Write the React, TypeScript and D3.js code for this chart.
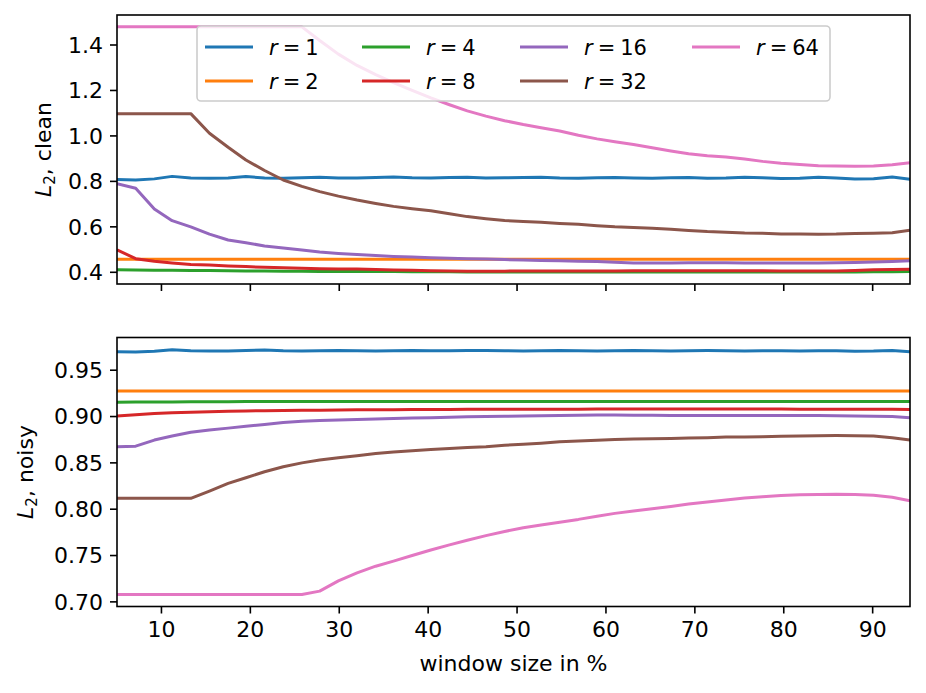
import React from "react";
import * as d3 from "d3";

const windowSize = [5.0, 7.1, 9.2, 11.2, 13.3, 15.4, 17.5, 19.5, 21.6, 23.7, 25.8, 27.8, 29.9, 32.0, 34.1, 36.1, 38.2, 40.3, 42.4, 44.4, 46.5, 48.6, 50.7, 52.7, 54.8, 56.9, 59.0, 61.0, 63.1, 65.2, 67.3, 69.3, 71.4, 73.5, 75.6, 77.6, 79.7, 81.8, 83.9, 85.9, 88.0, 90.1, 92.2, 94.2];

const seriesLabels = ["1", "2", "4", "8", "16", "32", "64"];
const seriesColors = ["#1f77b4", "#ff7f0e", "#2ca02c", "#d62728", "#9467bd", "#8c564b", "#e377c2"];

// clean
const clean_r1 = [0.808, 0.806, 0.811, 0.822, 0.815, 0.814, 0.815, 0.821, 0.815, 0.814, 0.816, 0.818, 0.815, 0.815, 0.817, 0.819, 0.816, 0.815, 0.817, 0.818, 0.815, 0.816, 0.817, 0.818, 0.815, 0.814, 0.816, 0.817, 0.815, 0.814, 0.816, 0.817, 0.814, 0.815, 0.818, 0.816, 0.813, 0.814, 0.818, 0.815, 0.811, 0.812, 0.819, 0.809];
const clean_r2 = [0.457, 0.457, 0.457, 0.457, 0.457, 0.457, 0.457, 0.457, 0.457, 0.457, 0.457, 0.457, 0.457, 0.457, 0.457, 0.457, 0.457, 0.457, 0.457, 0.457, 0.457, 0.457, 0.457, 0.457, 0.457, 0.457, 0.457, 0.457, 0.457, 0.457, 0.457, 0.457, 0.457, 0.457, 0.457, 0.457, 0.457, 0.457, 0.457, 0.457, 0.457, 0.457, 0.457, 0.457];
const clean_r4 = [0.411, 0.410, 0.409, 0.409, 0.408, 0.408, 0.407, 0.406, 0.406, 0.405, 0.405, 0.404, 0.404, 0.403, 0.403, 0.403, 0.402, 0.402, 0.402, 0.401, 0.401, 0.401, 0.401, 0.401, 0.401, 0.401, 0.401, 0.401, 0.401, 0.401, 0.401, 0.401, 0.401, 0.401, 0.401, 0.401, 0.401, 0.401, 0.401, 0.401, 0.401, 0.402, 0.402, 0.403];
const clean_r8 = [0.499, 0.460, 0.449, 0.441, 0.434, 0.432, 0.428, 0.425, 0.422, 0.420, 0.418, 0.416, 0.415, 0.414, 0.412, 0.410, 0.409, 0.407, 0.406, 0.405, 0.405, 0.405, 0.406, 0.406, 0.406, 0.406, 0.406, 0.406, 0.407, 0.407, 0.407, 0.407, 0.407, 0.407, 0.407, 0.407, 0.406, 0.406, 0.406, 0.406, 0.408, 0.411, 0.412, 0.413];
const clean_r16 = [0.790, 0.770, 0.678, 0.627, 0.600, 0.568, 0.542, 0.530, 0.516, 0.507, 0.498, 0.489, 0.483, 0.478, 0.474, 0.470, 0.467, 0.464, 0.462, 0.460, 0.458, 0.456, 0.454, 0.452, 0.451, 0.449, 0.448, 0.444, 0.441, 0.441, 0.441, 0.442, 0.442, 0.442, 0.441, 0.441, 0.441, 0.441, 0.441, 0.442, 0.443, 0.445, 0.448, 0.451];
const clean_r32 = [1.098, 1.098, 1.098, 1.098, 1.098, 1.012, 0.950, 0.894, 0.848, 0.806, 0.778, 0.755, 0.735, 0.718, 0.703, 0.690, 0.680, 0.671, 0.658, 0.645, 0.636, 0.628, 0.624, 0.620, 0.615, 0.611, 0.605, 0.600, 0.597, 0.594, 0.589, 0.584, 0.579, 0.576, 0.573, 0.572, 0.569, 0.568, 0.567, 0.568, 0.571, 0.572, 0.574, 0.585];
const clean_r64 = [1.48, 1.48, 1.48, 1.48, 1.48, 1.48, 1.48, 1.48, 1.48, 1.48, 1.48, 1.42, 1.36, 1.31, 1.27, 1.235, 1.20, 1.167, 1.137, 1.110, 1.087, 1.067, 1.050, 1.036, 1.022, 1.003, 0.987, 0.974, 0.962, 0.948, 0.934, 0.922, 0.913, 0.907, 0.898, 0.888, 0.880, 0.874, 0.869, 0.868, 0.867, 0.868, 0.873, 0.882];

// noisy
const noisy_r1 = [0.9700, 0.9697, 0.9705, 0.9722, 0.9710, 0.9707, 0.9708, 0.9712, 0.9718, 0.9710, 0.9707, 0.9710, 0.9713, 0.9710, 0.9708, 0.9710, 0.9714, 0.9711, 0.9709, 0.9712, 0.9713, 0.9711, 0.9708, 0.9711, 0.9713, 0.9710, 0.9708, 0.9711, 0.9713, 0.9710, 0.9707, 0.9710, 0.9712, 0.9710, 0.9708, 0.9711, 0.9710, 0.9708, 0.9711, 0.9709, 0.9705, 0.9707, 0.9714, 0.9700];
const noisy_r2 = [0.9275, 0.9275, 0.9275, 0.9275, 0.9275, 0.9275, 0.9275, 0.9275, 0.9275, 0.9275, 0.9275, 0.9275, 0.9275, 0.9275, 0.9275, 0.9275, 0.9275, 0.9275, 0.9275, 0.9275, 0.9275, 0.9275, 0.9275, 0.9275, 0.9275, 0.9275, 0.9275, 0.9275, 0.9275, 0.9275, 0.9275, 0.9275, 0.9275, 0.9275, 0.9275, 0.9275, 0.9275, 0.9275, 0.9275, 0.9275, 0.9275, 0.9275, 0.9275, 0.9275];
const noisy_r4 = [0.9155, 0.9156, 0.9157, 0.9158, 0.9159, 0.9160, 0.9160, 0.9161, 0.9161, 0.9161, 0.9162, 0.9162, 0.9162, 0.9162, 0.9162, 0.9162, 0.9162, 0.9162, 0.9162, 0.9162, 0.9162, 0.9162, 0.9162, 0.9162, 0.9162, 0.9162, 0.9162, 0.9162, 0.9162, 0.9162, 0.9162, 0.9162, 0.9162, 0.9162, 0.9162, 0.9162, 0.9162, 0.9162, 0.9162, 0.9162, 0.9162, 0.9162, 0.9162, 0.9162];
const noisy_r8 = [0.9005, 0.9020, 0.9033, 0.9042, 0.9047, 0.9053, 0.9057, 0.9060, 0.9063, 0.9065, 0.9067, 0.9069, 0.9070, 0.9072, 0.9073, 0.9074, 0.9075, 0.9076, 0.9077, 0.9078, 0.9078, 0.9079, 0.9079, 0.9080, 0.9080, 0.9080, 0.9081, 0.9081, 0.9081, 0.9081, 0.9081, 0.9081, 0.9081, 0.9081, 0.9081, 0.9081, 0.9081, 0.9080, 0.9080, 0.9080, 0.9080, 0.9079, 0.9078, 0.9077];
const noisy_r16 = [0.8674, 0.8680, 0.8746, 0.8790, 0.8830, 0.8855, 0.8875, 0.8895, 0.8915, 0.8935, 0.8948, 0.8956, 0.8962, 0.8968, 0.8973, 0.8978, 0.8983, 0.8988, 0.8993, 0.8997, 0.9000, 0.9003, 0.9005, 0.9008, 0.9010, 0.9013, 0.9016, 0.9016, 0.9014, 0.9013, 0.9012, 0.9011, 0.9010, 0.9010, 0.9010, 0.9010, 0.9010, 0.9010, 0.9010, 0.9009, 0.9007, 0.9004, 0.9000, 0.8987];
const noisy_r32 = [0.8117, 0.8117, 0.8117, 0.8117, 0.8117, 0.8195, 0.8278, 0.8340, 0.8404, 0.8458, 0.8500, 0.8530, 0.8555, 0.8577, 0.8600, 0.8618, 0.8632, 0.8645, 0.8655, 0.8665, 0.8675, 0.8690, 0.8700, 0.8712, 0.8728, 0.8737, 0.8745, 0.8752, 0.8757, 0.8760, 0.8764, 0.8768, 0.8772, 0.8778, 0.8780, 0.8783, 0.8787, 0.8790, 0.8793, 0.8795, 0.8794, 0.8790, 0.8770, 0.8746];
const noisy_r64 = [0.708, 0.708, 0.708, 0.708, 0.708, 0.708, 0.708, 0.708, 0.708, 0.708, 0.708, 0.7116, 0.7227, 0.7313, 0.7385, 0.7440, 0.7500, 0.7560, 0.7615, 0.7665, 0.7715, 0.7760, 0.7800, 0.7830, 0.7860, 0.7890, 0.7925, 0.7955, 0.7980, 0.8005, 0.8030, 0.8055, 0.8078, 0.8100, 0.8120, 0.8135, 0.8148, 0.8155, 0.8160, 0.8162, 0.8158, 0.8150, 0.8130, 0.8090];

const cleanSeries = [clean_r1, clean_r2, clean_r4, clean_r8, clean_r16, clean_r32, clean_r64];
const noisySeries = [noisy_r1, noisy_r2, noisy_r4, noisy_r8, noisy_r16, noisy_r32, noisy_r64];

const xTicks = [10, 20, 30, 40, 50, 60, 70, 80, 90];
const cleanTicks = [0.4, 0.6, 0.8, 1.0, 1.2, 1.4];
const noisyTicks = [0.70, 0.75, 0.80, 0.85, 0.90, 0.95];

const FONT = "DejaVu Sans, sans-serif";
const FS = 22;
const LFS = 21;
const L = 117, R = 910;

function Panel({ top, bottom, domain, ticks, fmt, series, showXLabels, clipId, ylabel, ylabelX }: any) {
  const x = d3.scaleLinear().domain([5, 94.2]).range([L, R]);
  const y = d3.scaleLinear().domain(domain).range([bottom, top]);
  const line = d3.line<number>().x((_, i) => x(windowSize[i])).y((d) => y(d));
  const cy = (top + bottom) / 2;
  return (
    <g>
      <defs>
        <clipPath id={clipId}>
          <rect x={L} y={top} width={R - L} height={bottom - top} />
        </clipPath>
      </defs>
      <g clipPath={`url(#${clipId})`}>
        {series.map((s: number[], k: number) => (
          <path key={k} d={line(s) || ""} fill="none" stroke={seriesColors[k]} strokeWidth={3} strokeLinejoin="round" strokeLinecap="butt" />
        ))}
      </g>
      <rect x={L} y={top} width={R - L} height={bottom - top} fill="none" stroke="#000" strokeWidth={1.6} />
      {xTicks.map((t) => (
        <g key={t}>
          <line x1={x(t)} x2={x(t)} y1={bottom} y2={bottom + 7} stroke="#000" strokeWidth={1.6} />
          {showXLabels && (
            <text x={x(t)} y={bottom + 14 + 16} textAnchor="middle" fontFamily={FONT} fontSize={FS} fill="#000">{t}</text>
          )}
        </g>
      ))}
      {ticks.map((t: number) => (
        <g key={t}>
          <line x1={L - 7} x2={L} y1={y(t)} y2={y(t)} stroke="#000" strokeWidth={1.6} />
          <text x={L - 14} y={y(t)} dy="0.36em" textAnchor="end" fontFamily={FONT} fontSize={FS} fill="#000">{fmt(t)}</text>
        </g>
      ))}
      <text transform={`translate(${ylabelX},${cy}) rotate(-90)`} textAnchor="middle" fontFamily={FONT} fontSize={FS} fill="#000">
        <tspan fontStyle="italic">L</tspan>
        <tspan fontSize={15} dy={4}>2</tspan>
        <tspan dy={-4}>, {ylabel}</tspan>
      </text>
    </g>
  );
}

function Legend() {
  const bx = 197, by = 26, bw = 633, bh = 75;
  const colX = [205, 362, 520, 692];
  const rowY = [47, 81];
  return (
    <g>
      <rect x={bx} y={by} width={bw} height={bh} rx={4} ry={4} fill="#fff" fillOpacity={0.8} stroke="#cccccc" strokeWidth={1.6} />
      {seriesLabels.map((lab, k) => {
        const c = Math.floor(k / 2), r = k % 2;
        const lx = colX[c], ly = rowY[r];
        return (
          <g key={k}>
            <line x1={lx} x2={lx + 48} y1={ly} y2={ly} stroke={seriesColors[k]} strokeWidth={3} />
            <text x={lx + 64} y={ly} dy="0.36em" fontFamily={FONT} fontSize={LFS} fill="#000">
              <tspan fontStyle="italic">r</tspan>
              <tspan dx={5}>=</tspan>
              <tspan dx={5}>{lab}</tspan>
            </text>
          </g>
        );
      })}
    </g>
  );
}

export default function App() {
  return (
    <svg width={926} height={693} style={{ position: "absolute", left: 0, top: 0, background: "#fff" }}>
      <rect width={926} height={693} fill="#fff" />
      <Panel top={15} bottom={284} domain={[0.3485, 1.532]} ticks={cleanTicks} fmt={d3.format(".1f")} series={cleanSeries} showXLabels={false} clipId="c1" ylabel="clean" ylabelX={51} />
      <Legend />
      <Panel top={337.5} bottom={606.5} domain={[0.695, 0.9853]} ticks={noisyTicks} fmt={d3.format(".2f")} series={noisySeries} showXLabels={true} clipId="c2" ylabel="noisy" ylabelX={33} />
      <text x={513.5} y={671} textAnchor="middle" fontFamily={FONT} fontSize={FS} fill="#000">window size in %</text>
    </svg>
  );
}
